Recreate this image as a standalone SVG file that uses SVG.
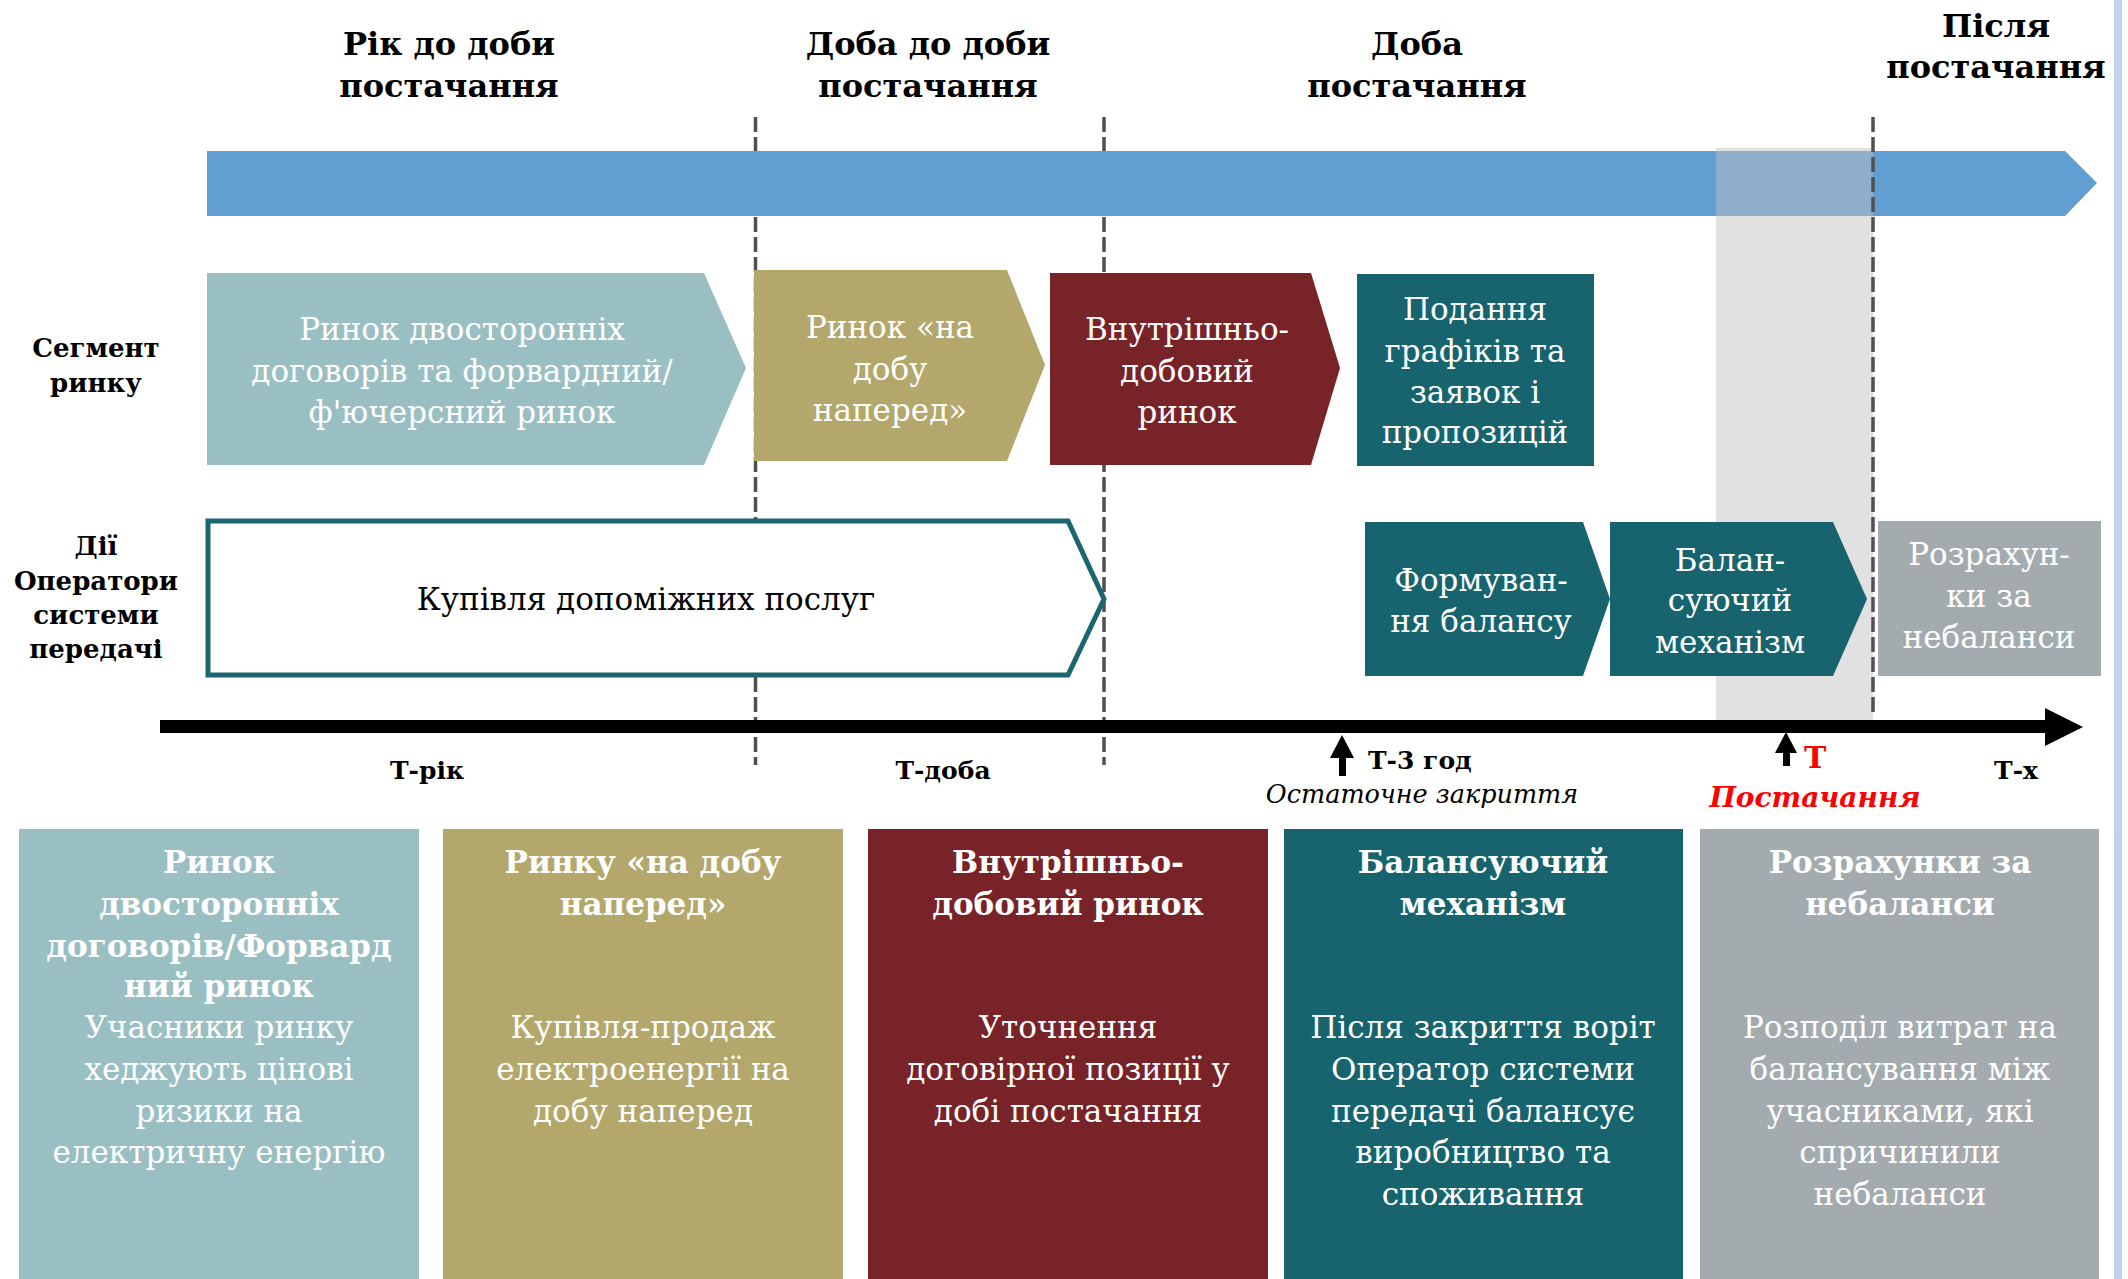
<svg xmlns="http://www.w3.org/2000/svg" width="2128" height="1279" viewBox="0 0 2128 1279">
<style>
text{font-family:"DejaVu Serif","Liberation Serif",serif}
.hdr{font-size:32px;font-weight:bold;fill:#000;text-anchor:middle}
.lbl{font-size:26px;font-weight:bold;fill:#000;text-anchor:middle}
.nt{font-size:31px;fill:#fff;text-anchor:middle}
.nb{font-size:31px;fill:#000;text-anchor:middle}
.pt{font-size:31px;font-weight:bold;fill:#fff;text-anchor:middle}
.pb{font-size:31px;fill:#fff;text-anchor:middle}
.tl{font-size:25px;font-weight:bold;fill:#000}
.dash{stroke:#505050;stroke-width:3.5;stroke-dasharray:15 5;fill:none}
.c1{fill:#9ABFC2}.c2{fill:#B3A76C}.c3{fill:#782328}.c4{fill:#17646E}.c5{fill:#A4ABAE}
</style>
<rect width="2128" height="1279" fill="#fff"/>
<rect x="2114" y="0" width="8" height="1279" fill="#BDD4EA"/>
<g id="dividers-back">
<line class="dash" x1="755.5" y1="117" x2="755.5" y2="765"/>
<line class="dash" x1="1104" y1="117" x2="1104" y2="765"/>
</g>
<path id="time-band" d="M207,151 H2065 L2097,183 L2065,216 H207 Z" fill="#619ED2"/>
<rect id="delivery-zone" x="1716" y="148" width="157" height="572" fill="#C1C1C1" fill-opacity="0.48"/>
<g id="headers">
<text class="hdr" x="449" y="55">Рік до доби</text>
<text class="hdr" x="449" y="97">постачання</text>
<text class="hdr" x="928" y="55">Доба до доби</text>
<text class="hdr" x="928" y="97">постачання</text>
<text class="hdr" x="1417" y="55">Доба</text>
<text class="hdr" x="1417" y="97">постачання</text>
<text class="hdr" x="1996" y="37">Після</text>
<text class="hdr" x="1996" y="78">постачання</text>
</g>
<g id="row-labels">
<text class="lbl" x="96" y="357">Сегмент</text>
<text class="lbl" x="96" y="392">ринку</text>
<text class="lbl" x="96" y="555">Дії</text>
<text class="lbl" x="96" y="590">Оператори</text>
<text class="lbl" x="96" y="624">системи</text>
<text class="lbl" x="96" y="658">передачі</text>
</g>
<g id="node-bilateral">
<polygon class="c1" points="207,273 704,273 746,368 704,465 207,465"/>
<text class="nt" x="462" y="340">Ринок двосторонніх</text>
<text class="nt" x="462" y="382">договорів та форвардний/</text>
<text class="nt" x="462" y="423">ф'ючерсний ринок</text>
</g>
<g id="node-dam">
<polygon class="c2" points="754,270 1007,270 1045,365 1007,461 754,461"/>
<text class="nt" x="890" y="338">Ринок «на</text>
<text class="nt" x="890" y="380">добу</text>
<text class="nt" x="890" y="421">наперед»</text>
</g>
<g id="node-idm">
<polygon class="c3" points="1050,273 1311,273 1340,368 1311,465 1050,465"/>
<text class="nt" x="1187" y="340">Внутрішньо-</text>
<text class="nt" x="1187" y="382">добовий</text>
<text class="nt" x="1187" y="423">ринок</text>
</g>
<g id="node-submission">
<rect class="c4" x="1357" y="274" width="237" height="192"/>
<text class="nt" x="1475" y="320">Подання</text>
<text class="nt" x="1475" y="362">графіків та</text>
<text class="nt" x="1475" y="403">заявок і</text>
<text class="nt" x="1475" y="443">пропозицій</text>
</g>
<g id="node-ancillary">
<polygon points="208,521 1068,521 1104,599 1068,675 208,675" fill="#fff" stroke="#1B6670" stroke-width="5"/>
<text class="nb" x="646" y="610">Купівля допоміжних послуг</text>
</g>
<g id="node-balance-forming">
<polygon class="c4" points="1365,522 1583,522 1610,599 1583,676 1365,676"/>
<text class="nt" x="1481" y="591">Формуван-</text>
<text class="nt" x="1481" y="632">ня балансу</text>
</g>
<g id="node-balancing">
<polygon class="c4" points="1610,522 1833,522 1867,599 1833,676 1610,676"/>
<text class="nt" x="1730" y="571">Балан-</text>
<text class="nt" x="1730" y="611">суючий</text>
<text class="nt" x="1730" y="653">механізм</text>
</g>
<g id="node-settlement">
<rect class="c5" x="1878" y="521" width="223" height="155"/>
<text class="nt" x="1989" y="565">Розрахун-</text>
<text class="nt" x="1989" y="607">ки за</text>
<text class="nt" x="1989" y="648">небаланси</text>
</g>
<line id="divider-delivery" class="dash" x1="1873" y1="117" x2="1873" y2="717"/>
<g id="connectors">
<rect x="160" y="720" width="1886" height="13" fill="#000"/>
<polygon points="2045,708 2083,727 2045,746" fill="#000"/>
<rect x="1339" y="752" width="7" height="24" fill="#000"/>
<polygon points="1330,758 1342,735 1354,758" fill="#000"/>
<rect x="1783" y="750" width="7" height="16" fill="#000"/>
<polygon points="1775,753 1786,732 1797,753" fill="#000"/>
</g>
<g id="timeline-labels">
<text class="tl" x="427" y="779" text-anchor="middle">Т-рік</text>
<text class="tl" x="943" y="779" text-anchor="middle">Т-доба</text>
<text class="tl" x="1368" y="769">Т-3 год</text>
<text x="1422" y="803" text-anchor="middle" font-size="25.5" font-style="italic" fill="#000">Остаточне закриття</text>
<text x="1804" y="768" font-size="30" font-weight="bold" fill="#FF0000">Т</text>
<text x="1815" y="807" text-anchor="middle" font-size="28" font-weight="bold" font-style="italic" fill="#FF0000">Постачання</text>
<text class="tl" x="2016" y="779" text-anchor="middle">Т-х</text>
</g>
<g id="panel-bilateral">
<rect class="c1" x="19" y="829" width="400" height="450"/>
<text class="pt" x="219" y="873">Ринок</text>
<text class="pt" x="219" y="915">двосторонніх</text>
<text class="pt" x="219" y="957">договорів/Форвард</text>
<text class="pt" x="219" y="997">ний ринок</text>
<text class="pb" x="219" y="1038">Учасники ринку</text>
<text class="pb" x="219" y="1080">хеджують цінові</text>
<text class="pb" x="219" y="1122">ризики на</text>
<text class="pb" x="219" y="1163">електричну енергію</text>
</g>
<g id="panel-dam">
<rect class="c2" x="443" y="829" width="400" height="450"/>
<text class="pt" x="643" y="873">Ринку «на добу</text>
<text class="pt" x="643" y="915">наперед»</text>
<text class="pb" x="643" y="1038">Купівля-продаж</text>
<text class="pb" x="643" y="1080">електроенергії на</text>
<text class="pb" x="643" y="1122">добу наперед</text>
</g>
<g id="panel-idm">
<rect class="c3" x="868" y="829" width="400" height="450"/>
<text class="pt" x="1068" y="873">Внутрішньо-</text>
<text class="pt" x="1068" y="915">добовий ринок</text>
<text class="pb" x="1068" y="1038">Уточнення</text>
<text class="pb" x="1068" y="1080">договірної позиції у</text>
<text class="pb" x="1068" y="1122">добі постачання</text>
</g>
<g id="panel-balancing">
<rect class="c4" x="1284" y="829" width="399" height="450"/>
<text class="pt" x="1483" y="873">Балансуючий</text>
<text class="pt" x="1483" y="915">механізм</text>
<text class="pb" x="1483" y="1038">Після закриття воріт</text>
<text class="pb" x="1483" y="1080">Оператор системи</text>
<text class="pb" x="1483" y="1122">передачі балансує</text>
<text class="pb" x="1483" y="1163">виробництво та</text>
<text class="pb" x="1483" y="1205">споживання</text>
</g>
<g id="panel-settlement">
<rect class="c5" x="1700" y="829" width="399" height="450"/>
<text class="pt" x="1900" y="873">Розрахунки за</text>
<text class="pt" x="1900" y="915">небаланси</text>
<text class="pb" x="1900" y="1038">Розподіл витрат на</text>
<text class="pb" x="1900" y="1080">балансування між</text>
<text class="pb" x="1900" y="1122">учасниками, які</text>
<text class="pb" x="1900" y="1163">спричинили</text>
<text class="pb" x="1900" y="1205">небаланси</text>
</g>
</svg>
